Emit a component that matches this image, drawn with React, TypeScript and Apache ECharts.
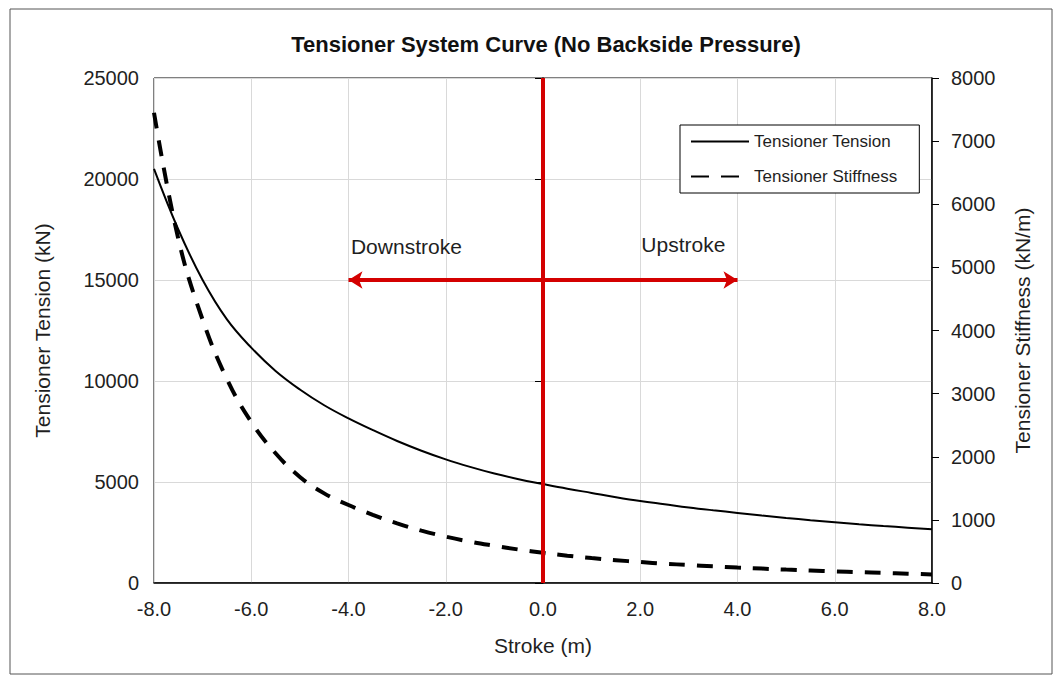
import React, { useEffect, useRef } from "react";
import * as echarts from "echarts";

// Stroke positions (m)
const STROKE = [
  -8.0, -7.5, -7.0, -6.5, -6.0, -5.5, -5.0, -4.5, -4.0, -3.5, -3.0, -2.5, -2.0, -1.5, -1.0, -0.5,
  0.0, 0.5, 1.0, 1.5, 2.0, 2.5, 3.0, 3.5, 4.0, 4.5, 5.0, 5.5, 6.0, 6.5, 7.0, 7.5, 8.0,
];

// Tensioner tension (kN), left axis
const TENSION = [
  20500, 17500, 15000, 13050, 11650, 10500, 9580, 8800, 8150, 7570, 7030, 6550, 6120, 5750, 5420, 5140,
  4900, 4670, 4460, 4250, 4060, 3900, 3740, 3600, 3470, 3340, 3220, 3110, 3010, 2910, 2820, 2740, 2660,
];

// Tensioner stiffness (kN/m), right axis
const STIFFNESS = [
  7450, 5450, 4170, 3230, 2550, 2055, 1680, 1420, 1235, 1080, 945, 830, 735, 655, 590, 530,
  478, 432, 395, 362, 332, 306, 285, 265, 245, 228, 212, 198, 185, 172, 160, 148, 135,
];

const X_TICK_LABELS = ["-8.0", "-6.0", "-4.0", "-2.0", "0.0", "2.0", "4.0", "6.0", "8.0"];

const FONT = "'Liberation Sans', Arial, sans-serif";
const RED = "#d40000";
const TEXT = "#1f1f1f";
const GRID_GRAY = "#d9d9d9";

export default function App() {
  const ref = useRef<HTMLDivElement>(null);

  useEffect(() => {
    document.body.style.margin = "0";
    const chart = echarts.init(ref.current as HTMLDivElement, null, { renderer: "svg" });

    const tensionData = STROKE.map((x, i) => [x, TENSION[i]]);
    const stiffnessData = STROKE.map((x, i) => [x, STIFFNESS[i]]);

    chart.setOption({
      animation: false,
      backgroundColor: "#ffffff",
      textStyle: { fontFamily: FONT },
      title: {
        text: "Tensioner System Curve (No Backside Pressure)",
        left: 541,
        top: 28,
        textAlign: "center",
        textStyle: { fontFamily: FONT, fontSize: 22, fontWeight: "bold", color: "#111" },
      },
      graphic: [
        {
          type: "rect",
          shape: { x: 10, y: 9, width: 1042, height: 665 },
          style: { fill: "none", stroke: "#555", lineWidth: 1 },
          silent: true,
        },
      ],
      legend: {
        orient: "vertical",
        left: 680,
        top: 125,
        padding: [8, 22, 8, 10],
        itemGap: 18,
        itemWidth: 58,
        itemHeight: 14,
        backgroundColor: "#fff",
        borderColor: "#000",
        borderWidth: 1,
        itemStyle: { color: "rgba(0,0,0,0)", borderWidth: 0 },
        textStyle: { fontFamily: FONT, fontSize: 17, color: TEXT },
        data: [
          { name: "Tensioner Tension" },
          { name: "Tensioner Stiffness", lineStyle: { type: [18, 12] } },
        ],
      },
      grid: {
        left: 154,
        right: 122,
        top: 78,
        bottom: 98,
        show: true,
        borderColor: "#000",
        borderWidth: 1,
      },
      xAxis: {
        type: "value",
        min: -8,
        max: 8,
        interval: 2,
        name: "Stroke (m)",
        nameLocation: "middle",
        nameGap: 52,
        nameTextStyle: { fontFamily: FONT, fontSize: 21, color: TEXT },
        axisLine: { lineStyle: { color: "#000", width: 1.5 } },
        axisTick: { show: false },
        axisLabel: {
          fontFamily: FONT,
          fontSize: 20,
          color: TEXT,
          margin: 16,
          formatter: (v: number) => X_TICK_LABELS[Math.round((v + 8) / 2)] ?? v.toFixed(1),
        },
        splitLine: { show: true, lineStyle: { color: GRID_GRAY, width: 1 } },
      },
      yAxis: [
        {
          type: "value",
          min: 0,
          max: 25000,
          interval: 5000,
          position: "left",
          name: "Tensioner Tension (kN)",
          nameLocation: "middle",
          nameGap: 101,
          nameRotate: 90,
          nameTextStyle: { fontFamily: FONT, fontSize: 21, color: TEXT },
          axisLine: { show: true, lineStyle: { color: "#000", width: 1.5 } },
          axisTick: { show: true, length: 8, lineStyle: { color: "#000" } },
          axisLabel: {
            fontFamily: FONT,
            fontSize: 20,
            color: TEXT,
            margin: 15,
            formatter: (v: number) => String(v),
          },
          splitLine: { show: true, lineStyle: { color: GRID_GRAY, width: 1 } },
        },
        {
          type: "value",
          min: 0,
          max: 8000,
          interval: 1000,
          position: "right",
          name: "Tensioner Stiffness (kN/m)",
          nameLocation: "middle",
          nameGap: 80,
          nameRotate: 90,
          nameTextStyle: { fontFamily: FONT, fontSize: 21, color: TEXT },
          axisLine: { show: true, lineStyle: { color: "#000", width: 1.5 } },
          axisTick: { show: true, length: 7, lineStyle: { color: "#000" } },
          axisLabel: {
            fontFamily: FONT,
            fontSize: 20,
            color: TEXT,
            margin: 19,
            formatter: (v: number) => String(v),
          },
          splitLine: { show: false },
        },
      ],
      series: [
        {
          name: "Tensioner Tension",
          type: "line",
          yAxisIndex: 0,
          data: tensionData,
          showSymbol: false,
          symbol: "none",
          smooth: 0.4,
          lineStyle: { color: "#000", width: 2 },
          itemStyle: { color: "#000" },
          z: 3,
          markLine: {
            silent: true,
            animation: false,
            label: { show: false },
            data: [
              [
                { coord: [0, 0], symbol: "none" },
                { coord: [0, 25000], symbol: "none" },
              ],
              [
                { coord: [-4, 15000], symbol: "arrow" },
                { coord: [4, 15000], symbol: "arrow" },
              ],
            ],
            symbolSize: [13, 14],
            lineStyle: { color: RED, width: 4, type: "solid" },
            z: 5,
          },
          markPoint: {
            silent: true,
            animation: false,
            symbol: "circle",
            symbolSize: 1,
            itemStyle: { color: "rgba(0,0,0,0)" },
            data: [
              {
                name: "Downstroke",
                coord: [-3.96, 16650],
                label: {
                  show: true,
                  position: "right",
                  distance: 0,
                  formatter: "Downstroke",
                  fontFamily: FONT,
                  fontSize: 21,
                  color: TEXT,
                },
              },
              {
                name: "Upstroke",
                coord: [3.76, 16750],
                label: {
                  show: true,
                  position: "left",
                  distance: 0,
                  formatter: "Upstroke",
                  fontFamily: FONT,
                  fontSize: 21,
                  color: TEXT,
                },
              },
            ],
          },
        },
        {
          name: "Tensioner Stiffness",
          type: "line",
          yAxisIndex: 1,
          data: stiffnessData,
          showSymbol: false,
          symbol: "none",
          smooth: 0.4,
          lineStyle: { color: "#000", width: 4, type: [16, 12] },
          itemStyle: { color: "#000" },
          z: 3,
        },
      ],
    });

    return () => chart.dispose();
  }, []);

  return <div ref={ref} style={{ width: 1054, height: 681 }} />;
}
